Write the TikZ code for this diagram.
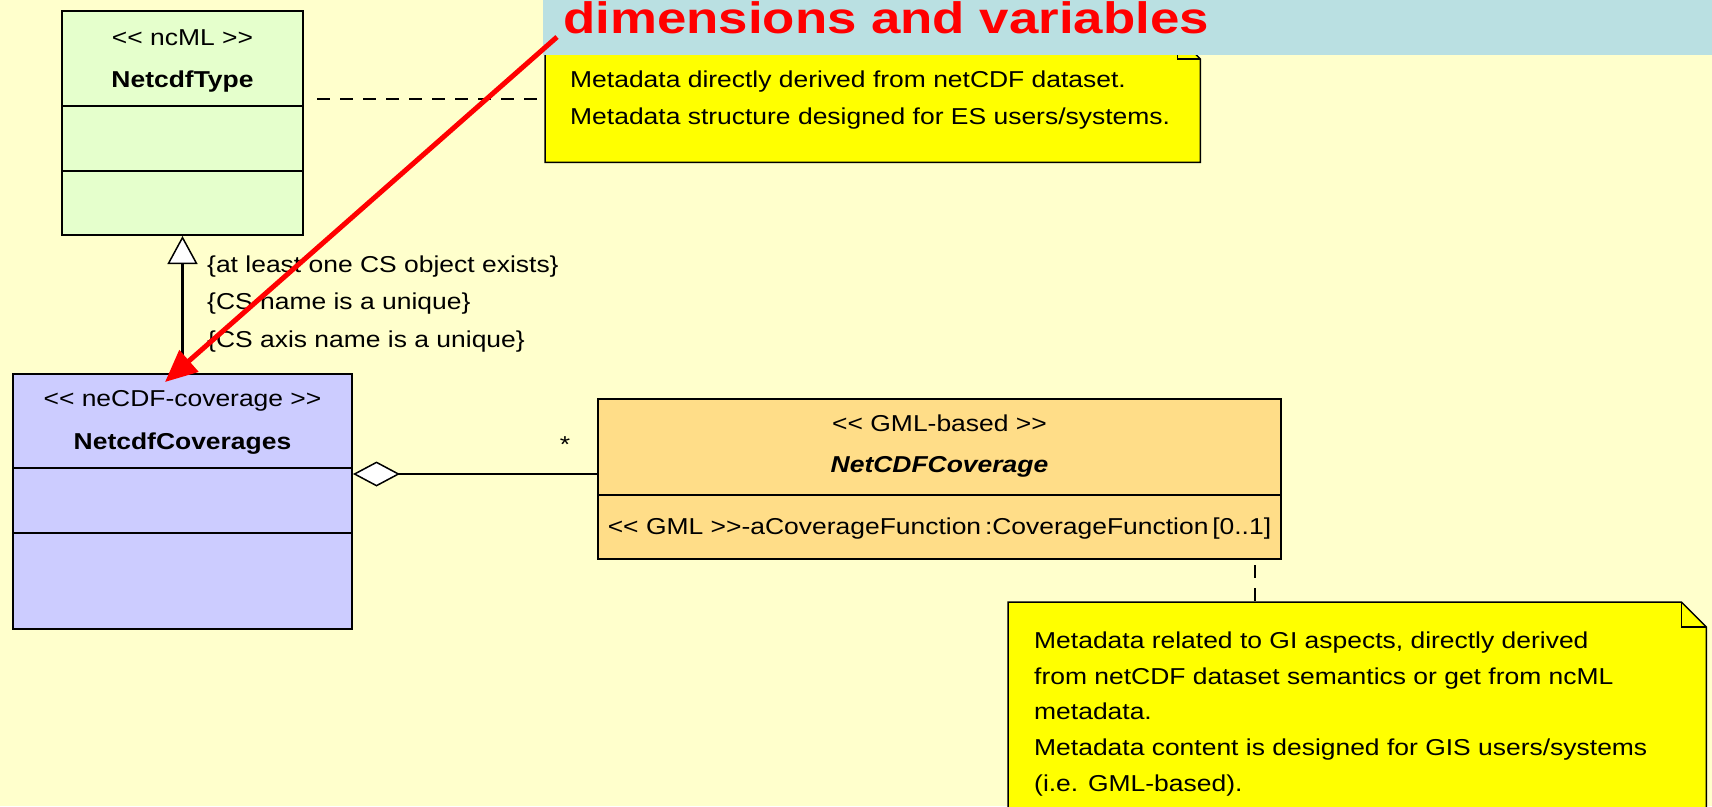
\documentclass[tikz,border=0pt]{standalone}
\usepackage{fontspec}
\setmainfont{Liberation Sans}[FakeStretch=1.15]
\newfontfamily\bannerfont{Liberation Sans}[FakeStretch=1.2]
\usetikzlibrary{calc, positioning, arrows.meta}

\definecolor{bgyellow}{RGB}{255,255,204}
\definecolor{bannerblue}{RGB}{186,224,226}
\definecolor{typegreen}{RGB}{229,255,204}
\definecolor{covblue}{RGB}{204,204,255}
\definecolor{gmlorange}{RGB}{255,221,136}
\definecolor{noteyellow}{RGB}{255,255,0}

\tikzset{
  txt/.style={font=\fontsize{23}{36}\selectfont, inner sep=0pt, anchor=base},
  classname/.style={font=\fontsize{23}{36}\selectfont\bfseries, inner sep=0pt, anchor=base},
  classbox/.style={draw, line width=2pt, anchor=north west, inner sep=0pt},
  notebox/.style={anchor=north west, inner sep=0pt},
  notelink/.style={line width=1.8pt, dash pattern=on 13pt off 10pt},
  genline/.style={line width=2.5pt, -{Triangle[length=28pt, width=30pt, fill=white, line width=1.5pt]}},
  aggline/.style={line width=2.5pt, {Diamond[length=47pt, width=25pt, fill=white, line width=1.5pt]}-},
  callout/.style={red, line width=5pt, -{Triangle[length=32pt, width=28pt]}}
}

\begin{document}
\begin{tikzpicture}[x=1pt, y=-1pt]

  % canvas %
  \useasboundingbox (0,0) rectangle (1712,806);
  \fill[bgyellow] (0,0) rectangle (1712,806);

  % class - NetcdfType %
  \node[classbox, fill=typegreen, minimum width=241pt, minimum height=224pt] (typebox) at (61,10) {};
  \node[txt] (typest) at (typebox.north |- 0,45) {<{}< ncML >{}>};
  \node[classname] (typename) at (typebox.north |- 0,87) {NetcdfType};
  \draw[line width=2pt] (typebox.west |- 0,106) -- (typebox.east |- 0,106);
  \draw[line width=2pt] (typebox.west |- 0,171) -- (typebox.east |- 0,171);

  % class - NetcdfCoverages %
  \node[classbox, fill=covblue, minimum width=339pt, minimum height=255pt] (netcov) at (12,373) {};
  \node[txt] (netcovst) at (netcov.north |- 0,406) {<{}< neCDF-coverage >{}>};
  \node[classname] (netcovname) at (netcov.north |- 0,449) {NetcdfCoverages};
  \draw[line width=2pt] (netcov.west |- 0,468) -- (netcov.east |- 0,468);
  \draw[line width=2pt] (netcov.west |- 0,533) -- (netcov.east |- 0,533);

  % class - NetCDFCoverage %
  \node[classbox, fill=gmlorange, minimum width=683pt, minimum height=160pt] (covbox) at (597,398) {};
  \node[txt] (covst) at (covbox.north |- 0,431) {<{}< GML-based >{}>};
  \node[classname] (covname) at (covbox.north |- 0,472) {\itshape NetCDFCoverage};
  \draw[line width=2pt] (covbox.west |- 0,495) -- (covbox.east |- 0,495);
  \node[txt] (covattr) at (covbox.north |- 0,534) {<{}< GML >{}>-aCoverageFunction\,:CoverageFunction\,[0..1]};

  % edges %
  \draw[genline] (netcov.north) -- (typebox.south);
  \node[txt, anchor=base west] (cons1) at (207,272) {\{at least one CS object exists\}};
  \node[txt, anchor=base west] (cons2) at (207,309) {\{CS name is a unique\}};
  \node[txt, anchor=base west] (cons3) at (207,347) {\{CS axis name is a unique\}};
  \draw[aggline] (netcov.east |- 0,474) -- (covbox.west |- 0,474);
  \node[txt] (mult) at (565,452) {*};

  % note - ES metadata %
  \node[notebox, minimum width=655pt, minimum height=126pt] (note1) at (545,36) {};
  \draw[line width=1.5pt, fill=noteyellow] (note1.north west) -- ([xshift=-23pt]note1.north east)
    -- ([yshift=-23pt]note1.north east) -- (note1.south east) -- (note1.south west) -- cycle;
  \draw[line width=1.5pt] ([xshift=-23pt]note1.north east) -- ([xshift=-23pt, yshift=-23pt]note1.north east)
    -- ([yshift=-23pt]note1.north east);
  \node[txt, anchor=base west] (note1a) at (570,87) {Metadata directly derived from netCDF dataset.};
  \node[txt, anchor=base west] (note1b) at (570,124) {Metadata structure designed for ES users/systems.};
  \draw[notelink] ($(typebox.east |- note1.west)+(13,0)$) -- (note1.west);

  % note - GIS metadata %
  \node[notebox, minimum width=698pt, minimum height=240pt] (note2) at (1008,602) {};
  \draw[line width=1.5pt, fill=noteyellow] (note2.north west) -- ([xshift=-25pt]note2.north east)
    -- ([yshift=-25pt]note2.north east) -- (note2.south east) -- (note2.south west) -- cycle;
  \draw[line width=1.5pt] ([xshift=-25pt]note2.north east) -- ([xshift=-25pt, yshift=-25pt]note2.north east)
    -- ([yshift=-25pt]note2.north east);
  \node[txt, anchor=base west] (note2a) at (1034,648) {Metadata related to GI aspects, directly derived};
  \node[txt, anchor=base west] (note2b) at (1034,684) {from netCDF dataset semantics or get from ncML};
  \node[txt, anchor=base west] (note2c) at (1034,719) {metadata.};
  \node[txt, anchor=base west] (note2d) at (1034,755) {Metadata content is designed for GIS users/systems};
  \node[txt, anchor=base west] (note2e) at (1034,791) {(i.e. GML-based).};
  \draw[notelink] ([xshift=-27pt, yshift=-5pt]covbox.south east) -- ([xshift=-27pt]covbox.south east |- note2.north);

  % banner %
  \fill[bannerblue] (543,0) rectangle (1712,55);
  \node[anchor=base west, inner sep=0pt, red, font=\bannerfont\fontsize{44}{50}\selectfont\bfseries] (banner) at (563,33) {dimensions and variables};

  % callout arrow %
  \coordinate (calloutfoot) at (557,37);
  \coordinate (callouttip) at (165,382);
  \draw[callout] (calloutfoot) -- (callouttip);

\end{tikzpicture}
\end{document}
